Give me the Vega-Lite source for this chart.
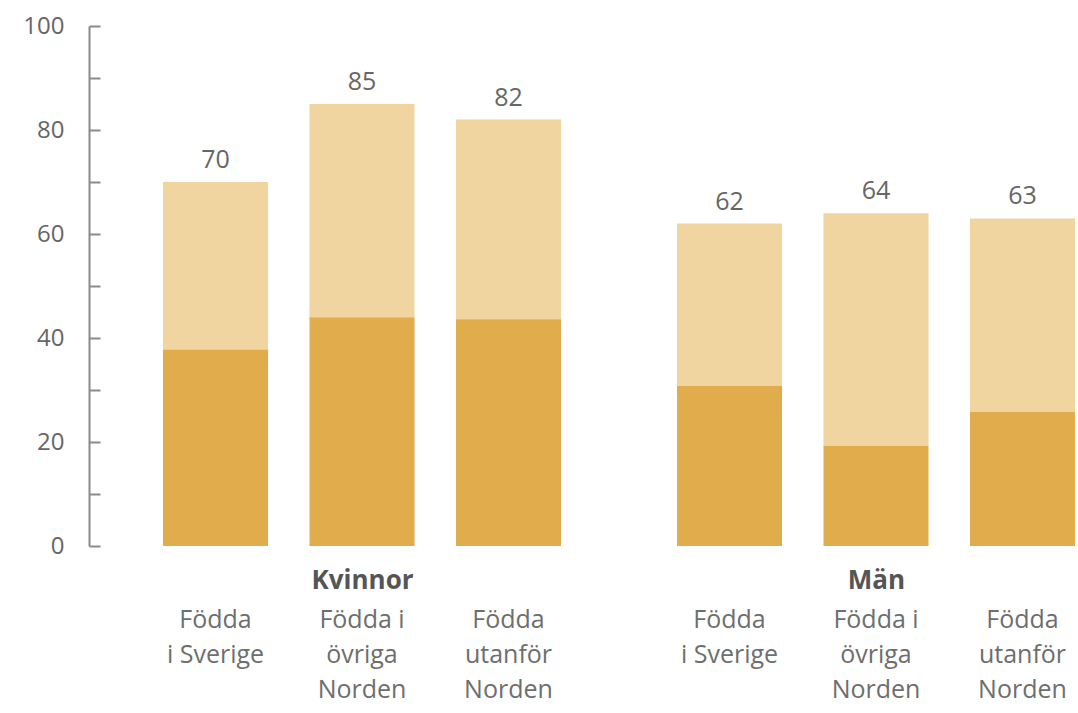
{
  "$schema": "https://vega.github.io/schema/vega-lite/v6.json",
  "background": "white",
  "padding": {"left": 22, "top": 14, "right": 1, "bottom": 0},
  "datasets": {
    "andelar": [
      {"kon": "Kvinnor", "grupp": "Födda i Sverige", "mork": 37.8, "total": 70},
      {"kon": "Kvinnor", "grupp": "Födda i övriga Norden", "mork": 44, "total": 85},
      {"kon": "Kvinnor", "grupp": "Födda utanför Norden", "mork": 43.6, "total": 82},
      {"kon": "Män", "grupp": "Födda i Sverige", "mork": 30.8, "total": 62},
      {"kon": "Män", "grupp": "Födda i övriga Norden", "mork": 19.3, "total": 64},
      {"kon": "Män", "grupp": "Födda utanför Norden", "mork": 25.8, "total": 63}
    ]
  },
  "config": {
    "view": {"stroke": null},
    "font": "Open Sans",
    "axis": {"grid": false}
  },
  "spacing": 42,
  "resolve": {"scale": {"x": "independent"}},
  "hconcat": [
    {
      "width": 546,
      "height": 520,
      "data": {"name": "andelar"},
      "transform": [{"filter": "datum.kon == 'Kvinnor'"}],
      "encoding": {
        "x": {
          "field": "grupp", "type": "nominal",
          "sort": ["Födda i Sverige", "Födda i övriga Norden", "Födda utanför Norden"],
          "scale": {"paddingInner": 0.283, "paddingOuter": 0.505},
          "axis": {
            "title": "Kvinnor", "titleFontWeight": "bold", "titleFontSize": 26, "titleColor": "#555555",
            "titleY": 34, "titleBaseline": "middle",
            "domain": false, "ticks": false, "labelAngle": 0,
            "labelFontSize": 25, "labelColor": "#6e6e6e", "labelPadding": 61, "labelLineHeight": 35,
            "labelBaseline": "top",
            "labelExpr": "datum.value == 'Födda i Sverige' ? ['Födda', 'i Sverige'] : datum.value == 'Födda i övriga Norden' ? ['Födda i', 'övriga', 'Norden'] : ['Födda', 'utanför', 'Norden']"
          }
        }
      },
      "layer": [
        {
          "mark": {"type": "bar", "color": "#F0D5A1"},
          "encoding": {
            "y": {"field": "mork", "type": "quantitative", "scale": {"domain": [0, 100]},
              "axis": {
                "title": null, "values": [0, 10, 20, 30, 40, 50, 60, 70, 80, 90, 100],
                "labelExpr": "datum.value % 20 == 0 ? datum.label : ''",
                "domainColor": "#8a8a8a", "domainWidth": 2, "tickColor": "#8a8a8a", "tickWidth": 2,
                "tickSize": -11, "labelPadding": 36, "labelFontSize": 24, "labelColor": "#666666"
              }
            },
            "y2": {"field": "total"}
          }
        },
        {
          "mark": {"type": "bar", "color": "#E0AC4C"},
          "encoding": {
            "y": {"field": "mork", "type": "quantitative", "scale": {"domain": [0, 100]}}
          }
        },
        {
          "mark": {"type": "text", "baseline": "alphabetic", "dy": -14, "fontSize": 25, "color": "#666666"},
          "encoding": {
            "y": {"field": "total", "type": "quantitative", "scale": {"domain": [0, 100]}},
            "text": {"field": "total", "type": "quantitative"}
          }
        }
      ]
    },
    {
      "width": 398,
      "height": 520,
      "data": {"name": "andelar"},
      "transform": [{"filter": "datum.kon == 'Män'"}],
      "encoding": {
        "x": {
          "field": "grupp", "type": "nominal",
          "sort": ["Födda i Sverige", "Födda i övriga Norden", "Födda utanför Norden"],
          "scale": {"paddingInner": 0.283, "paddingOuter": 0},
          "axis": {
            "title": "Män", "titleFontWeight": "bold", "titleFontSize": 26, "titleColor": "#555555",
            "titleY": 34, "titleBaseline": "middle",
            "domain": false, "ticks": false, "labelAngle": 0,
            "labelFontSize": 25, "labelColor": "#6e6e6e", "labelPadding": 61, "labelLineHeight": 35,
            "labelBaseline": "top",
            "labelExpr": "datum.value == 'Födda i Sverige' ? ['Födda', 'i Sverige'] : datum.value == 'Födda i övriga Norden' ? ['Födda i', 'övriga', 'Norden'] : ['Födda', 'utanför', 'Norden']"
          }
        }
      },
      "layer": [
        {
          "mark": {"type": "bar", "color": "#F0D5A1"},
          "encoding": {
            "y": {"field": "mork", "type": "quantitative", "scale": {"domain": [0, 100]}, "axis": null},
            "y2": {"field": "total"}
          }
        },
        {
          "mark": {"type": "bar", "color": "#E0AC4C"},
          "encoding": {
            "y": {"field": "mork", "type": "quantitative", "scale": {"domain": [0, 100]}, "axis": null}
          }
        },
        {
          "mark": {"type": "text", "baseline": "alphabetic", "dy": -14, "fontSize": 25, "color": "#666666"},
          "encoding": {
            "y": {"field": "total", "type": "quantitative", "scale": {"domain": [0, 100]}, "axis": null},
            "text": {"field": "total", "type": "quantitative"}
          }
        }
      ]
    }
  ]
}
